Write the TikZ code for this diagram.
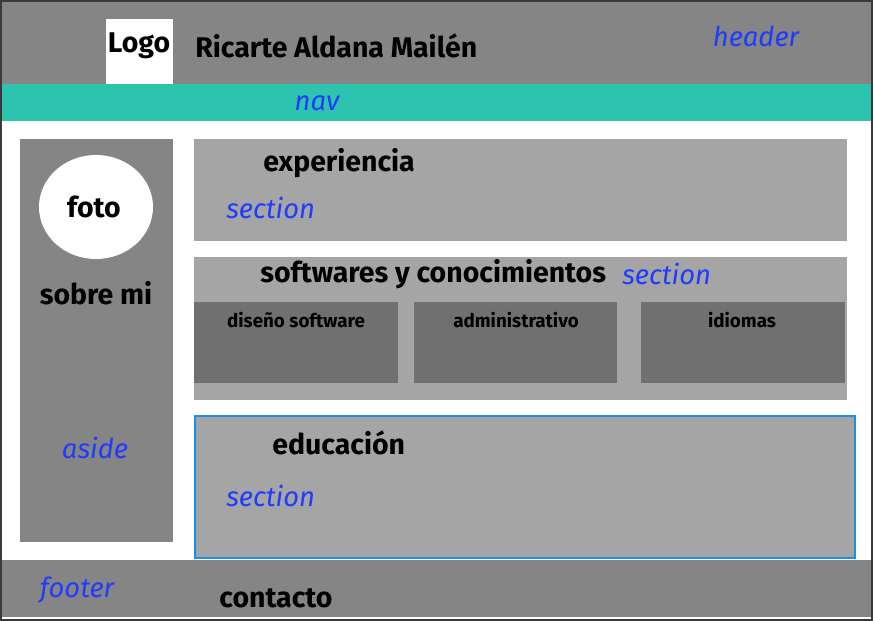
\documentclass[tikz,border=0pt]{standalone}
\usepackage{fontspec}
\setmainfont{Fira Sans}
\definecolor{framegray}{HTML}{3A3A3A}
\definecolor{headgray}{HTML}{858585}
\definecolor{navteal}{HTML}{2CC4AE}
\definecolor{secgray}{HTML}{A5A5A5}
\definecolor{boxgray}{HTML}{707070}
\definecolor{tagblue}{HTML}{1F3BFF}
\definecolor{edgeblue}{HTML}{1A8FE8}
\begin{document}
\begin{tikzpicture}[x=0.02cm,y=-0.02cm,inner sep=0pt,
  ttl/.style={font=\fontsize{16.2}{18}\selectfont\bfseries},
  sub/.style={font=\fontsize{10.7}{12}\selectfont\bfseries},
  tag/.style={text=tagblue,font=\fontsize{15.6}{18}\selectfont\itshape}]
\useasboundingbox (0,0) rectangle (873,621);

% frame and page
\fill[framegray] (0,0) rectangle (873,621);
\fill[white] (2,2) rectangle (871,619);

% header, nav
\fill[headgray] (2,2) rectangle (871,84);
\fill[white] (106,19) rectangle (173,84);
\fill[navteal] (2,84) rectangle (871,121);
\draw (139,46) node[ttl] (logo) {Logo};
\draw (195,46) node[ttl,anchor=west] (name) {Ricarte Aldana Mailén};
\draw (756,36) node[tag] (header) {header};
\draw (317,103) node[tag] (nav) {nav};

% aside
\fill[headgray] (20,139) rectangle (173,542);
\fill[white] (96,207) ellipse [x radius=57, y radius=52];
\draw (94,207) node[ttl] (foto) {foto};
\draw (96,293) node[ttl] (sobre) {sobre mi};
\draw (95,448) node[tag] (aside) {aside};

% experiencia
\fill[secgray] (194,139) rectangle (847,241);
\draw (263,163) node[ttl,anchor=west] (exp) {experiencia};
\draw (226,208) node[tag,anchor=west] (expsec) {section};

% softwares
\fill[secgray] (194,257) rectangle (847,400);
\draw (260,274) node[ttl,anchor=west] (soft) {softwares y conocimientos};
\draw (622,274) node[tag,anchor=west] (softsec) {section};
\fill[boxgray] (194,302) rectangle (398,383);
\fill[boxgray] (414,302) rectangle (617,383);
\fill[boxgray] (641,302) rectangle (845,383);
\draw (296,320) node[sub] (dis) {diseño software};
\draw (516,320) node[sub] (adm) {administrativo};
\draw (742,320) node[sub] (idi) {idiomas};

% educacion
\filldraw[fill=secgray,draw=edgeblue,line width=1.2pt] (195,416) rectangle (855,558);
\draw (272,443) node[ttl,anchor=west] (edu) {educación};
\draw (226,496) node[tag,anchor=west] (edusec) {section};

% footer
\fill[headgray] (2,560) rectangle (871,617);
\draw (77,590) node[tag] (footer) {footer};
\draw (276,598) node[ttl] (contacto) {contacto};
\end{tikzpicture}
\end{document}
